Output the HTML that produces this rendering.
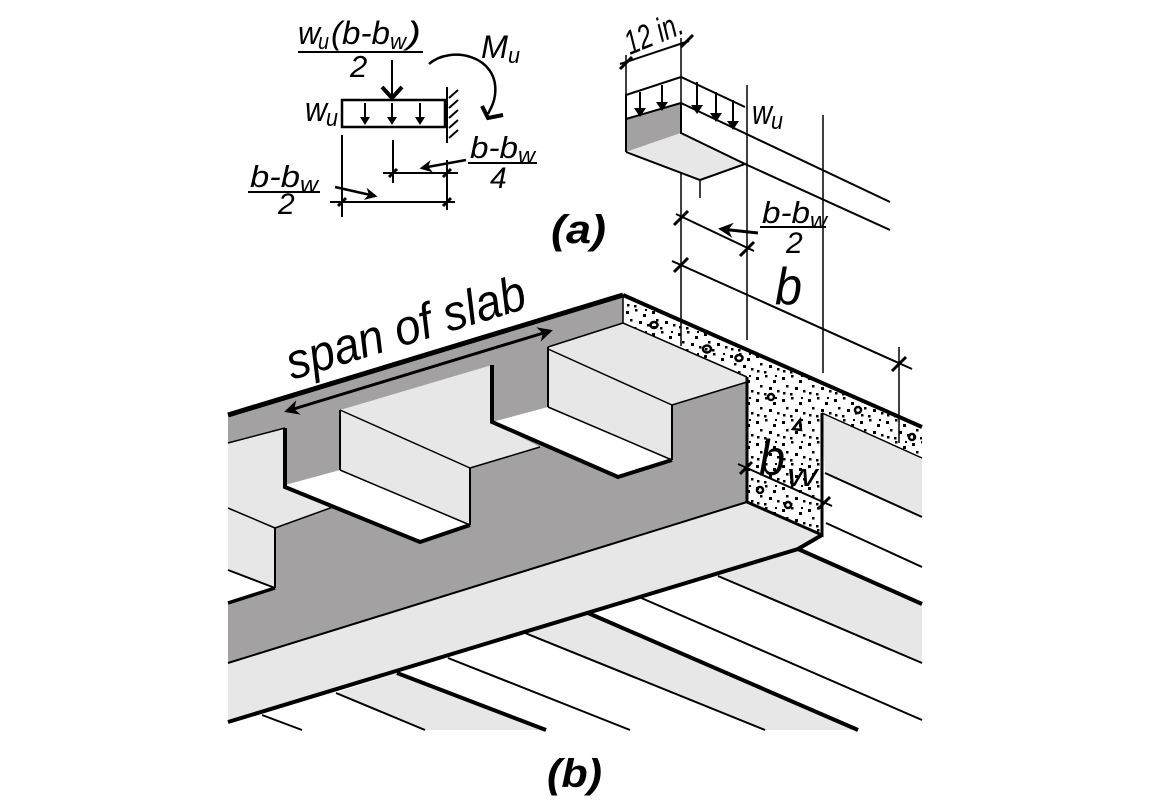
<!DOCTYPE html>
<html><head><meta charset="utf-8">
<style>
html,body{margin:0;padding:0;background:#fff;}
svg{display:block;}
text{font-family:"Liberation Sans",Arial,sans-serif;font-style:italic;fill:#000;}
</style></head>
<body>
<svg width="1152" height="810" viewBox="0 0 1152 810" xmlns="http://www.w3.org/2000/svg">
<defs>
<pattern id="conc" width="26" height="22" patternUnits="userSpaceOnUse">
<rect width="26" height="22" fill="#fff"/>
<rect x="2" y="3" width="3" height="3" fill="#000"/>
<rect x="11" y="1" width="2.5" height="2.5" fill="#000"/>
<rect x="19" y="6" width="3" height="3" fill="#000"/>
<rect x="6" y="11" width="2.5" height="2.5" fill="#000"/>
<rect x="15" y="13" width="3" height="3" fill="#000"/>
<rect x="23" y="16" width="2.5" height="2.5" fill="#000"/>
<rect x="3" y="18" width="2.5" height="2.5" fill="#000"/>
<rect x="10" y="19" width="2.5" height="2.5" fill="#000"/>
<rect x="21" y="1" width="2" height="2" fill="#000"/>
</pattern>
<marker id="ah" viewBox="0 0 10 10" refX="8" refY="5" markerWidth="5" markerHeight="5" orient="auto-start-reverse">
<path d="M0,0 L10,5 L0,10 L3,5 z" fill="#000"/>
</marker>
</defs>

<polygon points="798,549 922,604 922,663 718,576" fill="#e6e7e6"/>
<polygon points="588,613 858,730 765,730 525,633" fill="#e6e7e6"/>
<polygon points="397,673 546,730 425,730 336,693" fill="#e6e7e6"/>
<g stroke="#000" fill="none">
<line x1="798" y1="549" x2="922" y2="604" stroke-width="4"/>
<line x1="718" y1="576" x2="922" y2="663" stroke-width="2"/>
<line x1="639" y1="597" x2="922" y2="720" stroke-width="2"/>
<line x1="588" y1="613" x2="858" y2="730" stroke-width="4"/>
<line x1="525" y1="633" x2="765" y2="730" stroke-width="2"/>
<line x1="448" y1="658" x2="630" y2="730" stroke-width="2"/>
<line x1="397" y1="673" x2="546" y2="730" stroke-width="4"/>
<line x1="336" y1="693" x2="425" y2="730" stroke-width="2"/>
<line x1="262" y1="715" x2="302" y2="730" stroke-width="2"/>
</g>
<polygon points="822,413 922,458 922,517 825,473" fill="#e6e7e6"/>
<line x1="825" y1="473" x2="922" y2="517" stroke="#000" stroke-width="2"/>
<line x1="826" y1="523" x2="922" y2="567" stroke="#000" stroke-width="2"/>

<polygon points="228,415 623,295 623,323 747,377 747,502 228,663" fill="#a3a1a2"/>
<polygon points="228,663 747,502 822,535 798,549 228,722" fill="#e6e7e6"/>
<line x1="228" y1="663" x2="747" y2="502" stroke="#000" stroke-width="2"/>
<polyline points="228,722 798,549 822,535" fill="none" stroke="#000" stroke-width="4"/>

<polygon points="228,443 285,428 285,487 333,507 275,528 275,588 228,570" fill="#e6e7e6"/>
<polygon points="228,570 275,588 228,603" fill="#fff"/>
<g stroke="#000" fill="none">
<line x1="228" y1="508" x2="275" y2="528" stroke-width="1.5"/>
<line x1="228" y1="443" x2="285" y2="428" stroke-width="1.5"/>
<line x1="275" y1="528" x2="275" y2="588" stroke-width="2"/>
<line x1="228" y1="570" x2="275" y2="588" stroke-width="2"/>
<line x1="228" y1="603" x2="275" y2="588" stroke-width="3.5"/>
<line x1="275" y1="528" x2="333" y2="507" stroke-width="1.5"/>
</g>
<polygon points="340,410 492,365 492,422 540,447 470,468 470,525 340,470" fill="#e6e7e6"/>
<polygon points="285,485 340,470 470,525 420,542" fill="#fff"/>
<g stroke="#000" fill="none">
<line x1="340" y1="410" x2="340" y2="470" stroke-width="2"/>
<line x1="340" y1="410" x2="470" y2="468" stroke-width="1.5"/>
<line x1="470" y1="468" x2="470" y2="525" stroke-width="2"/>
<line x1="470" y1="468" x2="540" y2="447" stroke-width="1.5"/>
<line x1="340" y1="470" x2="470" y2="525" stroke-width="1.5"/>
<polyline points="285,428 285,487 420,542 470,525" stroke-width="4"/>
</g>
<polygon points="548,347 623,323 747,377 747,382 672,405 672,460 548,407" fill="#e6e7e6"/>
<polygon points="492,422 548,407 672,460 618,477" fill="#fff"/>
<g stroke="#000" fill="none">
<line x1="548" y1="347" x2="548" y2="407" stroke-width="2"/>
<line x1="548" y1="349" x2="672" y2="405" stroke-width="1.5"/>
<line x1="672" y1="405" x2="672" y2="460" stroke-width="2"/>
<line x1="672" y1="405" x2="747" y2="382" stroke-width="1.5"/>
<line x1="548" y1="407" x2="672" y2="460" stroke-width="1.5"/>
<line x1="548" y1="347" x2="623" y2="323" stroke-width="1.5"/>
<polyline points="492,365 492,422 618,477 672,460" stroke-width="4"/>
</g>

<polygon points="623,295 922,427 922,458 822,413 822,535 747,502 747,377 623,323" fill="url(#conc)"/>
<g fill="none" stroke="#000" stroke-width="2.5">
<ellipse cx="654" cy="325" rx="3.5" ry="3"/>
<ellipse cx="707" cy="349" rx="4" ry="3.5"/>
<ellipse cx="739" cy="358" rx="3.5" ry="3"/>
<ellipse cx="771" cy="397" rx="3" ry="3"/>
<path d="M793,429 L800,420 L801,430 Z"/>
<ellipse cx="858" cy="410" rx="3" ry="3"/>
<ellipse cx="912" cy="437" rx="3" ry="3"/>
<ellipse cx="760" cy="490" rx="3" ry="3"/>
<ellipse cx="788" cy="505" rx="3" ry="3"/>
</g>
<g stroke="#000" fill="none">
<line x1="623" y1="295" x2="922" y2="427" stroke-width="4"/>
<line x1="623" y1="323" x2="747" y2="377" stroke-width="1.5"/>
<line x1="822" y1="413" x2="922" y2="458" stroke-width="1.5"/>
<line x1="747" y1="377" x2="747" y2="502" stroke-width="3"/>
<polyline points="822,413 822,535 747,502" stroke-width="3"/>
<line x1="623" y1="295" x2="623" y2="323" stroke-width="1.5"/>
</g>
<line x1="228" y1="415" x2="623" y2="295" stroke="#000" stroke-width="5"/>

<line x1="287" y1="411" x2="550" y2="331" stroke="#000" stroke-width="3" marker-start="url(#ah)" marker-end="url(#ah)"/>
<text x="0" y="0" font-size="50" textLength="248" lengthAdjust="spacingAndGlyphs" transform="translate(292,380) rotate(-17)">span of slab</text>

<g stroke="#000" fill="none" stroke-width="1.5">
<line x1="681" y1="38" x2="681" y2="346"/>
<line x1="747" y1="85" x2="747" y2="340"/>
<line x1="823" y1="115" x2="823" y2="373"/>
<line x1="899" y1="347" x2="899" y2="443"/>
<line x1="626" y1="55" x2="626" y2="95"/>
<line x1="700" y1="180" x2="700" y2="198"/>
<line x1="672" y1="261" x2="912" y2="369" stroke-width="2"/>
<line x1="676" y1="214" x2="754" y2="251" stroke-width="2"/>
<line x1="738" y1="464" x2="832" y2="506" stroke-width="2"/>
<line x1="620" y1="64" x2="689" y2="41" stroke-width="2"/>
</g>
<g stroke="#000" stroke-width="3">
<line x1="674" y1="272" x2="688" y2="258"/>
<line x1="892" y1="371" x2="906" y2="357"/>
<line x1="674" y1="225" x2="688" y2="211"/>
<line x1="740" y1="256" x2="754" y2="242"/>
<line x1="740" y1="474" x2="752" y2="462"/>
<line x1="818" y1="509" x2="830" y2="497"/>
<line x1="620" y1="69" x2="632" y2="57"/>
<line x1="681" y1="47" x2="693" y2="35"/>
</g>
<line x1="758" y1="233" x2="721" y2="229" stroke="#000" stroke-width="3" marker-end="url(#ah)"/>

<text x="775" y="304" font-size="52" textLength="27" lengthAdjust="spacingAndGlyphs">b</text>
<text x="759" y="475" font-size="50" textLength="26" lengthAdjust="spacingAndGlyphs">b</text>
<text x="787" y="486" font-size="32" textLength="30" lengthAdjust="spacingAndGlyphs">w</text>
<text x="762" y="223" font-size="31" textLength="48" lengthAdjust="spacingAndGlyphs">b-b</text>
<text x="810" y="228" font-size="22" textLength="17" lengthAdjust="spacingAndGlyphs">w</text>
<line x1="760" y1="227" x2="826" y2="227" stroke="#000" stroke-width="2"/>
<text x="786" y="253" font-size="30" font-style="normal">2</text>

<polygon points="626,119 681,103 681,133 626,152" fill="#a3a1a2"/>
<polygon points="626,152 681,133 745,164 700,180" fill="#e6e7e6"/>
<g stroke="#000" fill="none" stroke-width="2">
<polyline points="626,152 626,95 681,77 745,107"/>
<line x1="626" y1="119" x2="681" y2="103"/>
<polyline points="626,152 700,180 745,164 681,133 681,103"/>
<line x1="681" y1="103" x2="890" y2="202"/>
<line x1="745" y1="164" x2="890" y2="230"/>
</g>
<g stroke="#000" stroke-width="2" fill="none">
<line x1="640" y1="92" x2="640" y2="114"/><line x1="662" y1="85" x2="662" y2="108"/>
<line x1="697" y1="82" x2="697" y2="110"/><line x1="716" y1="92" x2="716" y2="118"/><line x1="733" y1="100" x2="733" y2="126"/>
</g>
<g fill="#000">
<path d="M634,108 L640,117 L646,108 Z"/><path d="M656,102 L662,111 L668,102 Z"/>
<path d="M691,105 L697,114 L703,105 Z"/><path d="M710,113 L716,122 L722,113 Z"/><path d="M727,121 L733,130 L739,121 Z"/>
</g>
<text x="752" y="124" font-size="34" textLength="20" lengthAdjust="spacingAndGlyphs">w</text>
<text x="771" y="129" font-size="24" textLength="12" lengthAdjust="spacingAndGlyphs">u</text>
<text x="0" y="0" font-size="34" textLength="60" lengthAdjust="spacingAndGlyphs" transform="translate(630,55) rotate(-22)">12 in.</text>

<text x="298" y="44" font-size="32" textLength="22" lengthAdjust="spacingAndGlyphs">w</text>
<text x="318" y="49" font-size="22" textLength="11" lengthAdjust="spacingAndGlyphs">u</text>
<text x="331" y="44" font-size="32" textLength="59" lengthAdjust="spacingAndGlyphs">(b-b</text>
<text x="390" y="49" font-size="22" textLength="16" lengthAdjust="spacingAndGlyphs">w</text>
<text x="407" y="44" font-size="32" textLength="14" lengthAdjust="spacingAndGlyphs">)</text>
<line x1="298" y1="52" x2="423" y2="52" stroke="#000" stroke-width="2"/>
<text x="350" y="77" font-size="31" font-style="normal">2</text>
<line x1="392" y1="60" x2="392" y2="97" stroke="#000" stroke-width="2"/>
<polyline points="382,87 392,98 402,87" fill="none" stroke="#000" stroke-width="4"/>
<rect x="342" y="100" width="103" height="27" fill="none" stroke="#000" stroke-width="2.5"/>
<line x1="447" y1="87" x2="447" y2="143" stroke="#000" stroke-width="2"/>
<g stroke="#000" stroke-width="2">
<line x1="449" y1="98" x2="458" y2="90"/><line x1="449" y1="108" x2="458" y2="100"/><line x1="449" y1="118" x2="458" y2="110"/><line x1="449" y1="128" x2="458" y2="120"/><line x1="449" y1="138" x2="458" y2="130"/>
</g>
<g stroke="#000" stroke-width="2"><line x1="365" y1="103" x2="365" y2="123"/><line x1="392" y1="103" x2="392" y2="123"/><line x1="420" y1="103" x2="420" y2="123"/></g>
<g fill="#000"><path d="M360,117 L365,125 L370,117 Z"/><path d="M387,117 L392,125 L397,117 Z"/><path d="M415,117 L420,125 L425,117 Z"/></g>
<text x="305" y="121" font-size="34" textLength="22" lengthAdjust="spacingAndGlyphs">w</text>
<text x="326" y="126" font-size="24" textLength="12" lengthAdjust="spacingAndGlyphs">u</text>
<path d="M429,64 C450,45 500,55 495,95 C494,103 491,108 488,114" fill="none" stroke="#000" stroke-width="2.5"/>
<polyline points="482,106 488,118 503,115" fill="none" stroke="#000" stroke-width="4"/>
<text x="481" y="58" font-size="32" textLength="27" lengthAdjust="spacingAndGlyphs">M</text>
<text x="508" y="63" font-size="22" textLength="12" lengthAdjust="spacingAndGlyphs">u</text>
<g stroke="#000" stroke-width="2" fill="none">
<line x1="342" y1="135" x2="342" y2="217"/>
<line x1="393" y1="140" x2="393" y2="183"/>
<line x1="447" y1="160" x2="447" y2="210"/>
<line x1="383" y1="173" x2="458" y2="173"/>
<line x1="330" y1="202" x2="455" y2="202"/>
</g>
<g stroke="#000" stroke-width="3">
<line x1="389" y1="177" x2="397" y2="169"/><line x1="443" y1="177" x2="451" y2="169"/>
<line x1="338" y1="206" x2="346" y2="198"/><line x1="443" y1="206" x2="451" y2="198"/>
</g>
<line x1="466" y1="160" x2="422" y2="168" stroke="#000" stroke-width="2.5" marker-end="url(#ah)"/>
<line x1="335" y1="187" x2="375" y2="196" stroke="#000" stroke-width="2.5" marker-end="url(#ah)"/>
<text x="470" y="158" font-size="31" textLength="48" lengthAdjust="spacingAndGlyphs">b-b</text>
<text x="518" y="163" font-size="22" textLength="17" lengthAdjust="spacingAndGlyphs">w</text>
<line x1="468" y1="163" x2="537" y2="163" stroke="#000" stroke-width="2"/>
<text x="490" y="188" font-size="30" font-style="normal">4</text>
<text x="250" y="187" font-size="31" textLength="50" lengthAdjust="spacingAndGlyphs">b-b</text>
<text x="300" y="192" font-size="22" textLength="18" lengthAdjust="spacingAndGlyphs">w</text>
<line x1="248" y1="192" x2="320" y2="192" stroke="#000" stroke-width="2"/>
<text x="278" y="214" font-size="30" font-style="normal">2</text>

<text x="551" y="243" font-size="40" font-weight="bold" textLength="55" lengthAdjust="spacingAndGlyphs">(a)</text>
<text x="547" y="787" font-size="40" font-weight="bold" textLength="55" lengthAdjust="spacingAndGlyphs">(b)</text>
</svg>
</body></html>
